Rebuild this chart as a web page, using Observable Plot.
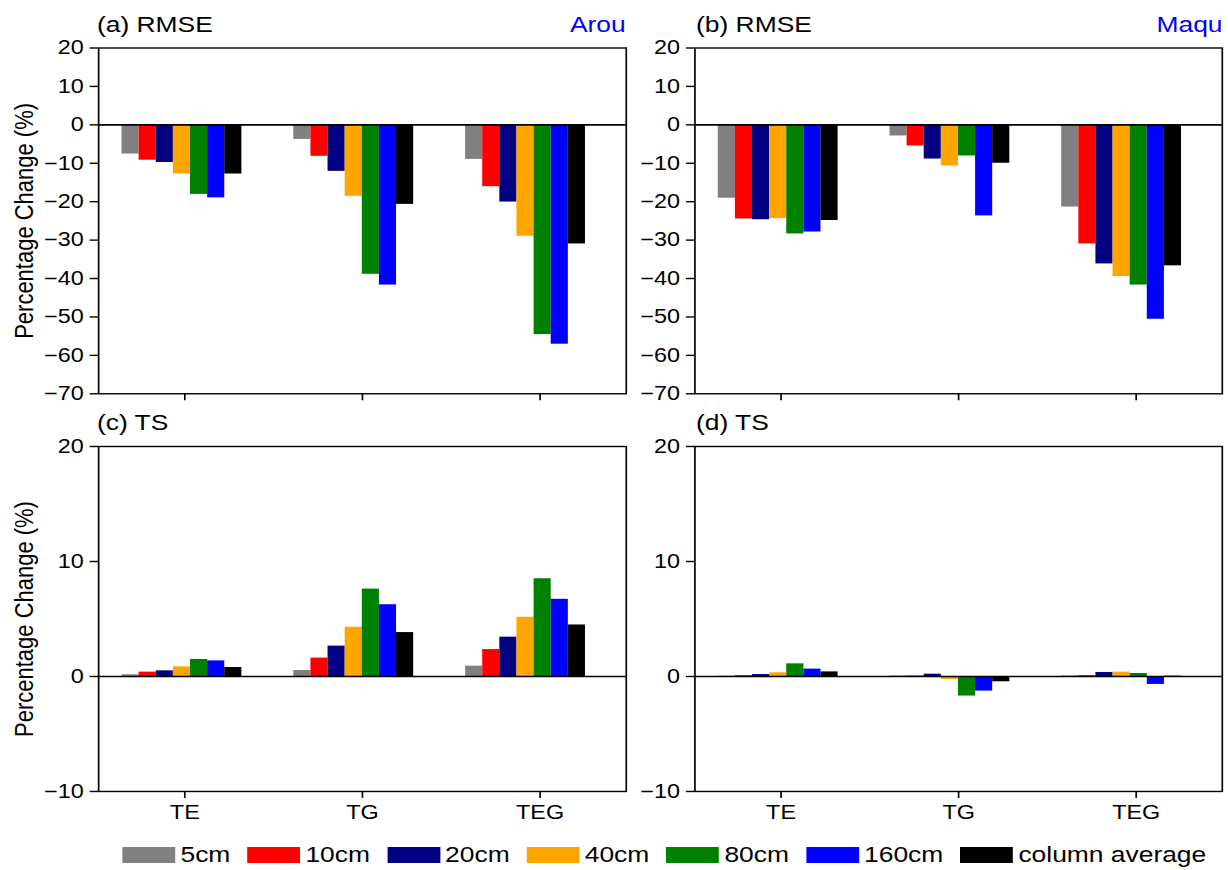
<!DOCTYPE html>
<html>
<head>
<meta charset="utf-8">
<script src="https://cdn.jsdelivr.net/npm/d3@7"></script>
<script src="https://cdn.jsdelivr.net/npm/@observablehq/plot@0.6"></script>
<style>
  html, body { margin: 0; padding: 0; background: #fff; overflow: hidden; }
  #page { position: relative; width: 1023.33px; height: 870px; transform: scaleX(1.2); transform-origin: 0 0;
          font-family: "Liberation Sans", Arial, sans-serif; color: #000; }
  .abs { position: absolute; }
  .title { font-size: 22px; line-height: 22px; white-space: nowrap; }
  .site { font-size: 22px; line-height: 22px; color: #0000ff; text-align: right; white-space: nowrap; }
  #legend { position: absolute; left: 102px; top: 843.5px; height: 22px; display: flex; align-items: center;
            font-size: 22px; line-height: 22px; white-space: nowrap; }
  .item { display: flex; align-items: center; margin-right: 14.2px; }
  .item:last-child { margin-right: 0; }
  .swatch { width: 44px; height: 16px; margin-right: 4.4px; }
</style>
</head>
<body>
<div id="page"></div>
<script>
// ---- data ----
const groups = ["TE", "TG", "TEG"];
const depths = ["5cm", "10cm", "20cm", "40cm", "80cm", "160cm", "column average"];
const colors = ["#808080", "#ff0000", "#000080", "#ffa500", "#008000", "#0000ff", "#000000"];

// values per group (TE, TG, TEG), per depth
const rmseArou = [
  [-7.6, -9.2, -9.8, -12.8, -18.1, -19.0, -12.8],
  [-3.8, -8.2, -12.1, -18.6, -38.9, -41.7, -20.7],
  [-9.0, -16.1, -20.1, -29.0, -54.6, -57.1, -31.0]
];
const rmseMaqu = [
  [-19.1, -24.5, -24.7, -24.4, -28.4, -27.9, -24.9],
  [-2.9, -5.5, -8.9, -10.7, -8.1, -23.7, -10.0],
  [-21.4, -31.0, -36.2, -39.5, -41.7, -50.6, -36.7]
];
const tsArou = [
  [0.15, 0.38, 0.49, 0.84, 1.48, 1.36, 0.78],
  [0.52, 1.6, 2.64, 4.28, 7.6, 6.24, 3.82],
  [0.9, 2.34, 3.42, 5.15, 8.5, 6.71, 4.48]
];
const tsMaqu = [
  [0.03, 0.08, 0.17, 0.32, 1.1, 0.64, 0.4],
  [0.05, 0.05, 0.2, -0.26, -1.7, -1.27, -0.46],
  [0.05, 0.08, 0.35, 0.38, 0.26, -0.69, 0.03]
];
const rmseTicks = [-70, -60, -50, -40, -30, -20, -10, 0, 10, 20];
const tsTicks = [-10, 0, 10, 20];

// ---- layout helpers ----
const FONT = '"Liberation Sans", Arial, sans-serif';
const barW = 0.0964, groupStep = 0.967, groupShift = -0.0155;

function panel(values, yDomain, yTicks, opts) {
  const rows = values.flatMap((arr, gi) => arr.map((v, di) => ({gi, di, v})));
  const x1 = d => d.gi * groupStep + groupShift + (d.di - 3.5) * barW;
  return Plot.plot({
    width: opts.width, height: opts.height,
    marginLeft: opts.ml, marginRight: opts.mr, marginTop: opts.mt, marginBottom: opts.mb,
    x: {domain: [-0.485, 2.485]},
    y: {domain: yDomain},
    style: {fontFamily: FONT, fontSize: "19.5px", color: "black", background: "transparent", overflow: "visible"},
    marks: [
      Plot.rect(rows, {x1, x2: d => x1(d) + barW, y1: 0, y2: "v", fill: d => colors[d.di]}),
      Plot.ruleY([0], {stroke: "black", strokeWidth: 1.6}),
      Plot.frame({stroke: "black", strokeWidth: 1.4}),
      Plot.axisX({ticks: [0, 1, 2], tickFormat: opts.xLabels ? (i => groups[i]) : (() => ""),
                  tickSize: 7, tickPadding: 7, strokeWidth: 1.4, label: null}),
      Plot.axisY({ticks: yTicks, tickSize: 7, tickPadding: 5.5, strokeWidth: 1.4, label: null}),
      opts.yLabel ? Plot.text(["Percentage Change (%)"], {frameAnchor: "left", dx: -61.7, rotate: -90,
                  fontSize: 22, textAnchor: "middle", lineAnchor: "middle"}) : null
    ]
  });
}

const page = document.getElementById("page");
function place(el, left, top) {
  el.style.position = "absolute"; el.style.left = left + "px"; el.style.top = top + "px";
  page.appendChild(el);
}

// plot areas (design units): left col x 81.7–521.4, right col x 578.6–1018.1
// top row y 47.5–393.3, bottom row y 446–791
place(panel(rmseArou, [-70, 20], rmseTicks, {width: 531.4, height: 423.3, ml: 81.7, mr: 10, mt: 47.5, mb: 30, xLabels: false, yLabel: true}), 0, 0);
place(panel(rmseMaqu, [-70, 20], rmseTicks, {width: 523.1, height: 423.3, ml: 78.6, mr: 5, mt: 47.5, mb: 30, xLabels: false, yLabel: false}), 500, 0);
place(panel(tsArou, [-10, 20], tsTicks, {width: 531.4, height: 416, ml: 81.7, mr: 10, mt: 26, mb: 45, xLabels: true, yLabel: true}), 0, 420);
place(panel(tsMaqu, [-10, 20], tsTicks, {width: 523.1, height: 416, ml: 78.6, mr: 5, mt: 26, mb: 45, xLabels: true, yLabel: false}), 500, 420);

// titles
function addText(cls, text, left, top, width) {
  const d = document.createElement("div");
  d.className = "abs " + cls; d.textContent = text;
  d.style.left = left + "px"; d.style.top = top + "px";
  if (width) d.style.width = width + "px";
  page.appendChild(d);
}
addText("title", "(a) RMSE", 80.8, 13.9);
addText("title", "(b) RMSE", 580, 13.9);
addText("title", "(c) TS", 80.8, 411.9);
addText("title", "(d) TS", 580, 411.9);
addText("site", "Arou", 421.4, 13.9, 100);
addText("site", "Maqu", 918.8, 13.9, 100);

// legend
const legend = document.createElement("div");
legend.id = "legend";
depths.forEach((name, i) => {
  const item = document.createElement("div"); item.className = "item";
  const sw = document.createElement("div"); sw.className = "swatch"; sw.style.background = colors[i];
  const t = document.createElement("span"); t.textContent = name;
  item.appendChild(sw); item.appendChild(t); legend.appendChild(item);
});
page.appendChild(legend);
</script>
</body>
</html>
